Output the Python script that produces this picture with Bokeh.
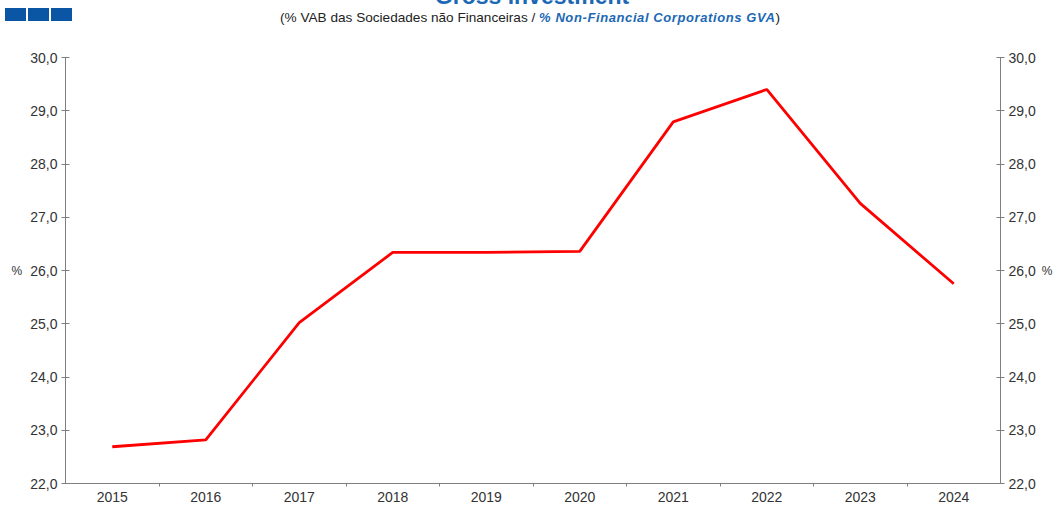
from bokeh.plotting import figure
from bokeh.models import (Range1d, LinearAxis, FixedTicker, CustomJSTickFormatter, Div)
from bokeh.layouts import column
from bokeh.embed import file_html
from bokeh.resources import INLINE

# ---- data ----
years = [2015, 2016, 2017, 2018, 2019, 2020, 2021, 2022, 2023, 2024]
investment = [22.69, 22.82, 25.02, 26.34, 26.34, 26.36, 28.79, 29.40, 27.26, 25.75]
y_ticks = [22, 23, 24, 25, 26, 27, 28, 29, 30]
title_text = "Gross investment"
subtitle_pt = "(% VAB das Sociedades não Financeiras / "
subtitle_en = "% Non-Financial Corporations GVA"

FONT = "'Liberation Sans', Arial, sans-serif"
W = 1055

sq = "display:inline-block;vertical-align:top;width:21px;height:13px;background:#0B56A4;margin-right:2px;"
header_html = f"""
<div style="position:relative;width:{W}px;height:28px;font-family:{FONT};overflow:visible;">
  <div style="position:absolute;left:0px;top:3px;height:13px;line-height:13px;white-space:nowrap;">
    <span style="{sq}"></span><span style="{sq}"></span><span style="{sq}"></span>
  </div>
  <div style="position:absolute;left:0px;width:1054px;top:-20px;text-align:center;font-size:23px;line-height:23px;font-weight:bold;color:#1C68B4;white-space:nowrap;">{title_text}</div>
  <div style="position:absolute;left:0px;width:1050px;top:5px;text-align:center;font-size:13.6px;line-height:15px;color:#222222;white-space:nowrap;">{subtitle_pt}<span style="color:#1C68B4;font-weight:bold;font-style:italic;font-size:13px;letter-spacing:0.6px;">{subtitle_en}</span>)</div>
</div>
"""
header = Div(text=header_html, width=W, height=28, styles={"overflow": "visible"})

p = figure(width=W, height=466, output_backend="svg", toolbar_location=None,
           x_range=Range1d(2014.5, 2024.5), y_range=Range1d(22, 30),
           min_border_top=19, min_border_left=65, min_border_right=51, min_border_bottom=0)
p.outline_line_color = None
p.xgrid.visible = False
p.ygrid.visible = False
p.background_fill_color = "white"
p.border_fill_color = "white"

p.line(years, investment, line_color="#FF0000", line_width=2.8)

fmt = CustomJSTickFormatter(code="return tick.toFixed(1).replace('.', ',');")

def style_y(ax):
    ax.ticker = FixedTicker(ticks=y_ticks)
    ax.formatter = fmt
    ax.axis_line_color = "#7F7F7F"
    ax.major_tick_line_color = "#7F7F7F"
    ax.major_tick_in = 4
    ax.major_tick_out = 4
    ax.minor_tick_line_color = None
    ax.major_label_text_font = "Liberation Sans"
    ax.major_label_text_font_size = "14px"
    ax.major_label_text_color = "#333333"
    ax.major_label_standoff = 4
    ax.axis_label = "%"
    ax.axis_label_orientation = "horizontal"
    ax.axis_label_text_font = "Liberation Sans"
    ax.axis_label_text_font_style = "normal"
    ax.axis_label_text_font_size = "12px"
    ax.axis_label_text_color = "#333333"

style_y(p.yaxis[0])
p.yaxis[0].axis_label_standoff = 5
right = LinearAxis()
style_y(right)
right.axis_label_standoff = 3
p.add_layout(right, "right")

xa = p.xaxis[0]
xa.ticker = FixedTicker(ticks=years, minor_ticks=[y + 0.5 for y in years[:-1]])
xa.formatter = CustomJSTickFormatter(code="return tick.toFixed(0);")
xa.axis_line_color = "#7F7F7F"
xa.major_tick_line_color = None
xa.major_tick_in = 0
xa.major_tick_out = 0
xa.minor_tick_line_color = "#7F7F7F"
xa.minor_tick_in = 0
xa.minor_tick_out = 3
xa.major_label_text_font = "Liberation Sans"
xa.major_label_text_font_size = "14px"
xa.major_label_text_color = "#333333"
xa.major_label_standoff = 5

layout = column(header, p)
open("out.html", "w").write(file_html(layout, INLINE))
